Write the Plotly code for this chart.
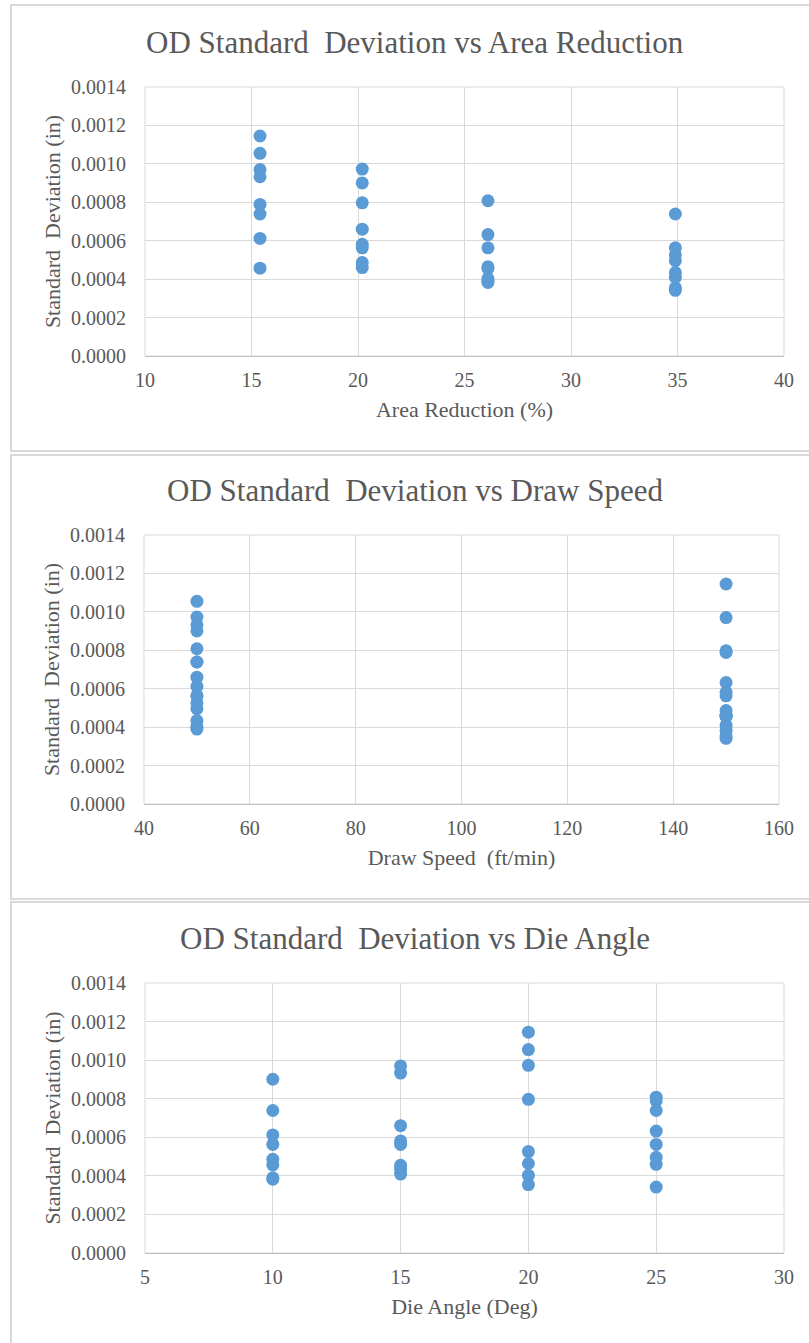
import plotly.graph_objects as go

# ---- data (one row per run) ----
area_reduction = [15.4]*8 + [20.2]*8 + [26.1]*8 + [34.9]*8
die_angle = [10, 10, 15, 15, 20, 20, 25, 25] * 4
draw_speed = [50, 150] * 16
od_std = [
    0.000612, 0.000457, 0.000933, 0.000970, 0.001055, 0.001145, 0.000739, 0.000789,
    0.000901, 0.000486, 0.000660, 0.000581, 0.000973, 0.000797, 0.000563, 0.000460,
    0.000390, 0.000383, 0.000563, 0.000455, 0.000403, 0.000464, 0.000808, 0.000632,
    0.000739, 0.000563, 0.000434, 0.000409, 0.000526, 0.000355, 0.000496, 0.000342,
]

titles = ["OD Standard  Deviation vs Area Reduction",
          "OD Standard  Deviation vs Draw Speed",
          "OD Standard  Deviation vs Die Angle"]
x_titles = ["Area Reduction (%)", "Draw Speed  (ft/min)", "Die Angle (Deg)"]
y_title = "Standard  Deviation (in)"
x_ranges = [[10, 40], [40, 160], [5, 30]]
x_dticks = [5, 20, 5]
x_series = [area_reduction, draw_speed, die_angle]

W, H = 809, 1343
FONT = "Liberation Serif, Times New Roman, serif"
TXT = "#595959"
GRID = "#d9d9d9"
BLUE = "#5b9bd5"

# plot-area pixel boxes: (left, right, top, bottom)
boxes = [(145, 784, 87, 356), (144, 779, 535, 804), (145, 784, 983, 1253)]
title_y = [42, 490, 938]
panels = [(11, 5, 451), (11, 455, 899), (11, 902, 1360)]

fig = go.Figure()
layout = dict(
    width=W, height=H, margin=dict(l=0, r=0, t=0, b=0, autoexpand=False),
    paper_bgcolor="white", plot_bgcolor="white", showlegend=False,
    font=dict(family=FONT, color=TXT),
    annotations=[], shapes=[],
)

for i in range(3):
    n = "" if i == 0 else str(i + 1)
    l, r, t, b = boxes[i]
    fig.add_trace(go.Scatter(
        x=x_series[i], y=od_std, mode="markers",
        marker=dict(size=13, color=BLUE, line=dict(width=0)),
        xaxis="x" + n, yaxis="y" + n, hoverinfo="x+y"))
    layout["xaxis" + n] = dict(
        domain=[l / W, r / W], anchor="y" + n, range=x_ranges[i], dtick=x_dticks[i],
        tick0=0, showgrid=True, gridcolor=GRID, gridwidth=1, zeroline=False,
        showline=True, linecolor="#bfbfbf", linewidth=1, automargin=False,
        ticks="outside", ticklen=6, tickcolor="rgba(0,0,0,0)",
        tickfont=dict(family=FONT, size=20, color=TXT),
        title=dict(text=x_titles[i], font=dict(family=FONT, size=22, color=TXT), standoff=11),
    )
    layout["yaxis" + n] = dict(
        domain=[1 - b / H, 1 - t / H], anchor="x" + n, range=[0, 0.0014], dtick=0.0002,
        tickformat=".4f", showgrid=True, gridcolor=GRID, gridwidth=1, zeroline=False,
        showline=False, ticks="outside", ticklen=14, tickcolor="rgba(0,0,0,0)",
        automargin=False,
        tickfont=dict(family=FONT, size=20, color=TXT),
        title=dict(text=y_title, font=dict(family=FONT, size=22, color=TXT), standoff=4),
    )
    layout["annotations"].append(dict(
        text=titles[i], x=415 / W, y=1 - title_y[i] / H, xref="paper", yref="paper",
        xanchor="center", yanchor="middle", showarrow=False,
        font=dict(family=FONT, size=31, color=TXT)))
    # outer chart border
    px0, py0, py1 = panels[i]
    layout["shapes"].append(dict(
        type="rect", xref="paper", yref="paper",
        x0=px0 / W, x1=1.05, y0=1 - py1 / H, y1=1 - py0 / H,
        line=dict(color=GRID, width=2), fillcolor="rgba(0,0,0,0)", layer="below"))
    # top and right plot-area edges
    layout["shapes"].append(dict(
        type="rect", xref="paper", yref="paper",
        x0=l / W, x1=r / W, y0=1 - b / H, y1=1 - t / H,
        line=dict(color=GRID, width=1), fillcolor="rgba(0,0,0,0)", layer="below"))

fig.update_layout(**layout)
fig.write_html("out.html")
